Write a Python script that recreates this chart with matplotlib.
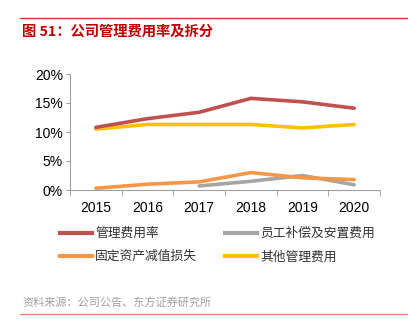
import matplotlib
matplotlib.use("Agg")
import matplotlib.pyplot as plt
from matplotlib.lines import Line2D

plt.rcParams["font.family"] = ["Noto Sans CJK SC", "DejaVu Sans"]

years = ["2015", "2016", "2017", "2018", "2019", "2020"]
admin_rate = [10.8, 12.3, 13.4, 15.8, 15.2, 14.1]
staff_comp = [None, None, 0.7, 1.5, 2.5, 0.9]
asset_impair = [0.3, 1.0, 1.4, 3.0, 2.1, 1.8]
other_admin = [10.5, 11.3, 11.3, 11.3, 10.7, 11.3]

series_names = ["管理费用率", "员工补偿及安置费用", "固定资产减值损失", "其他管理费用"]
series_colors = ["#C0504D", "#A5A5A5", "#F79646", "#FFC000"]

fig = plt.figure(figsize=(4.08, 3.26), dpi=100)
ax = fig.add_axes([70 / 408, 1 - 190 / 326, 310 / 408, 116 / 326])

x = list(range(len(years)))
gray_x = [i for i, v in zip(x, staff_comp) if v is not None]
gray_y = [v for v in staff_comp if v is not None]

ax.plot(gray_x, gray_y, color=series_colors[1], lw=2.6, solid_capstyle="round")
ax.plot(x, asset_impair, color=series_colors[2], lw=2.6, solid_capstyle="round")
ax.plot(x, other_admin, color=series_colors[3], lw=2.6, solid_capstyle="round")
ax.plot(x, admin_rate, color=series_colors[0], lw=2.6, solid_capstyle="round")

ax.set_xlim(-0.5, len(years) - 0.5)
ax.set_ylim(0, 20)
ax.set_yticks([0, 5, 10, 15, 20])
ax.set_yticklabels([f"{v}%" for v in [0, 5, 10, 15, 20]], fontfamily="Liberation Sans", fontsize=10)
ax.set_xticks(x)
ax.set_xticklabels(years, fontfamily="Liberation Sans", fontsize=10)
ax.set_xticks([i - 0.5 for i in range(len(years) + 1)], minor=True)
ax.tick_params(axis="x", which="major", length=0, pad=8)
ax.tick_params(axis="x", which="minor", length=4, color="#A0A0A0")
ax.tick_params(axis="y", length=3, color="#A0A0A0", pad=2)
for s in ["top", "right"]:
    ax.spines[s].set_visible(False)
for s in ["left", "bottom"]:
    ax.spines[s].set_color("#A0A0A0")
    ax.spines[s].set_linewidth(0.8)

# legend
handles = [Line2D([0], [0], color=c, lw=3) for c in series_colors]
order = [0, 2, 1, 3]
fig.legend([handles[i] for i in order], [series_names[i] for i in order], ncol=2,
           loc="upper left", bbox_to_anchor=(60 / 408, 1 - 227 / 326), frameon=False,
           borderpad=0, borderaxespad=0, prop={"size": 9.2},
           handlelength=2.5, handletextpad=0.25, columnspacing=2.2,
           labelspacing=0.8, labelcolor="#333333")

# header / footer
fig.add_artist(Line2D([20 / 408, 1], [1 - 18 / 326] * 2, color="#E03030", lw=1))
fig.text(22 / 408, 1 - 32 / 326, "图 51：公司管理费用率及拆分", color="#C00000",
         fontsize=10.3, fontweight="bold", va="center")
fig.text(22 / 408, 1 - 303 / 326, "资料来源：公司公告、东方证券研究所", color="#A0A0A0",
         fontsize=8, va="center")
fig.add_artist(Line2D([20 / 408, 1], [1 - 314 / 326] * 2, color="#F08080", lw=1))

fig.savefig("out.png", dpi=100)
